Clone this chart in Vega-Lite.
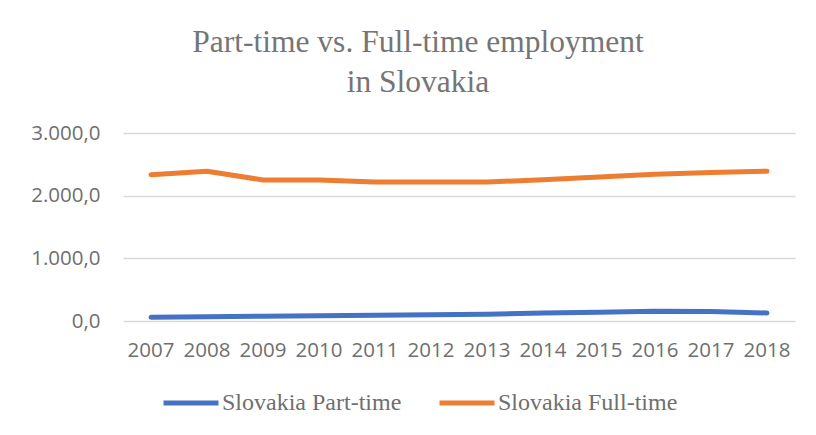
{
  "$schema": "https://vega.github.io/schema/vega-lite/v6.json",
  "width": 672,
  "height": 188,
  "autosize": "none",
  "padding": {"left": 123, "top": 133, "right": 21, "bottom": 114},
  "background": "white",
  "title": {
    "text": ["Part-time vs. Full-time employment", "in Slovakia"],
    "font": "Liberation Serif",
    "fontSize": 31.5,
    "fontWeight": "normal",
    "color": "#757575",
    "anchor": "middle",
    "dx": -41,
    "lineHeight": 40,
    "offset": 25
  },
  "data": {
    "values": [
      {"year": "2007", "series": "Slovakia Part-time", "value": 60},
      {"year": "2008", "series": "Slovakia Part-time", "value": 68},
      {"year": "2009", "series": "Slovakia Part-time", "value": 76},
      {"year": "2010", "series": "Slovakia Part-time", "value": 84},
      {"year": "2011", "series": "Slovakia Part-time", "value": 92},
      {"year": "2012", "series": "Slovakia Part-time", "value": 98},
      {"year": "2013", "series": "Slovakia Part-time", "value": 108},
      {"year": "2014", "series": "Slovakia Part-time", "value": 128},
      {"year": "2015", "series": "Slovakia Part-time", "value": 140},
      {"year": "2016", "series": "Slovakia Part-time", "value": 155},
      {"year": "2017", "series": "Slovakia Part-time", "value": 150},
      {"year": "2018", "series": "Slovakia Part-time", "value": 128},
      {"year": "2007", "series": "Slovakia Full-time", "value": 2335},
      {"year": "2008", "series": "Slovakia Full-time", "value": 2390},
      {"year": "2009", "series": "Slovakia Full-time", "value": 2250},
      {"year": "2010", "series": "Slovakia Full-time", "value": 2250},
      {"year": "2011", "series": "Slovakia Full-time", "value": 2218},
      {"year": "2012", "series": "Slovakia Full-time", "value": 2218},
      {"year": "2013", "series": "Slovakia Full-time", "value": 2218},
      {"year": "2014", "series": "Slovakia Full-time", "value": 2255},
      {"year": "2015", "series": "Slovakia Full-time", "value": 2297},
      {"year": "2016", "series": "Slovakia Full-time", "value": 2342},
      {"year": "2017", "series": "Slovakia Full-time", "value": 2370},
      {"year": "2018", "series": "Slovakia Full-time", "value": 2390}
    ]
  },
  "mark": {"type": "line", "strokeWidth": 5, "strokeCap": "round", "strokeJoin": "round"},
  "encoding": {
    "x": {
      "field": "year",
      "type": "ordinal",
      "scale": {"type": "band", "paddingInner": 0, "paddingOuter": 0},
      "axis": {
        "title": null,
        "labelAngle": 0,
        "ticks": false,
        "domain": false,
        "grid": false,
        "labelFont": "Open Sans",
        "labelFontSize": 20.5,
        "labelColor": "#6f6f6f",
        "labelPadding": 19
      }
    },
    "y": {
      "field": "value",
      "type": "quantitative",
      "scale": {"domain": [0, 3000], "nice": false},
      "axis": {
        "title": null,
        "values": [0, 1000, 2000, 3000],
        "labelExpr": "replace(replace(replace(format(datum.value, ',.1f'), ',', '_'), '.', ','), '_', '.')",
        "ticks": false,
        "domain": false,
        "gridColor": "#d9d9d9",
        "gridWidth": 1.5,
        "labelFont": "Open Sans",
        "labelFontSize": 20.5,
        "labelColor": "#6f6f6f",
        "labelPadding": 23
      }
    },
    "color": {
      "field": "series",
      "type": "nominal",
      "scale": {"domain": ["Slovakia Part-time", "Slovakia Full-time"], "range": ["#4472C4", "#ED7D31"]},
      "legend": {
        "title": null,
        "orient": "none",
        "direction": "horizontal",
        "legendX": 38,
        "legendY": 240,
        "symbolType": "stroke",
        "symbolSize": 3025,
        "symbolStrokeWidth": 5,
        "labelFont": "Liberation Serif",
        "labelFontSize": 24,
        "labelLimit": 0,
        "labelColor": "#6f6f6f",
        "labelOffset": 1,
        "columnPadding": 27
      }
    }
  },
  "config": {"view": {"stroke": null}}
}
